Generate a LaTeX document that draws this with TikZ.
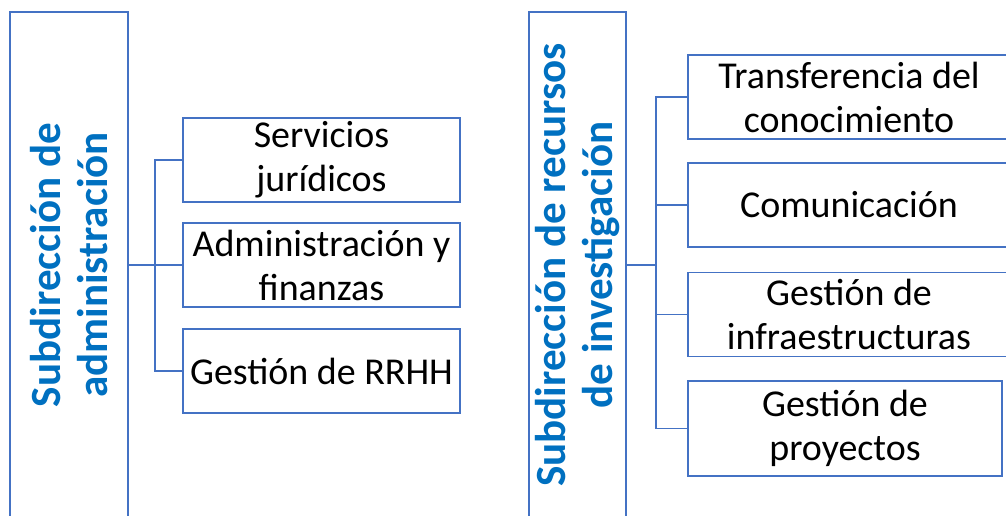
\documentclass[tikz,border=0pt]{standalone}
\usepackage{fontspec}
\setmainfont{Carlito}
\usepackage{xcolor}
\usepackage{tikz}
\usetikzlibrary{positioning, calc}
\definecolor{boxblue}{HTML}{4472C4}
\definecolor{titleblue}{HTML}{0070C0}

\begin{document}
\begin{tikzpicture}[
    head/.style={rectangle, draw=boxblue, line width=1.1pt, rotate=90, minimum width=10.12cm, inner sep=0pt, align=center, text=titleblue, font=\fontsize{24.5}{27}\selectfont\bfseries},
    unit/.style={rectangle, draw=boxblue, line width=1.1pt, minimum height=1.68cm, inner sep=0pt, align=center, font=\fontsize{21.6}{25}\selectfont},
    link/.style={draw=boxblue, line width=0.8pt}
]
\useasboundingbox (0,0) rectangle (20.12,-10.30);
\clip (0,0) rectangle (20.12,-10.30);

\node[head, minimum height=2.36cm] (adm) at (1.38,-5.30) {Subdirección de\\administración};
\node[unit, minimum width=5.54cm] (serv) at (6.43,-3.20) {Servicios\\jurídicos};
\node[unit, minimum width=5.54cm] (fin) at (6.43,-5.30) {Administración y\\finanzas};
\node[unit, minimum width=5.54cm] (rrhh) at (6.43,-7.42) {Gestión de RRHH};

\node[head, minimum height=1.94cm] (inv) at (11.55,-5.30) {Subdirección de recursos\\de investigación};
\node[unit, minimum width=6.44cm] (trans) at (16.98,-1.94) {Transferencia del\\conocimiento};
\node[unit, minimum width=6.44cm] (com) at (16.98,-4.10) {Comunicación};
\node[unit, minimum width=6.44cm] (infra) at (16.98,-6.29) {Gestión de\\infraestructuras};
\node[unit, minimum width=6.28cm, minimum height=1.9cm] (proy) at (16.90,-8.57) {Gestión de\\proyectos};

\coordinate (jl) at (3.10,-5.30);
\coordinate (jr) at (13.12,-5.30);

\draw[link] (adm.south) -- (fin.west);
\draw[link] (jl) |- (serv.west);
\draw[link] (jl) |- (rrhh.west);

\draw[link] (inv.south) -- (jr);
\draw[link] (jr) |- (trans.west);
\draw[link] (jr) |- (com.west);
\draw[link] (jr) |- (infra.west);
\draw[link] (jr) |- (proy.west);

\end{tikzpicture}
\end{document}
